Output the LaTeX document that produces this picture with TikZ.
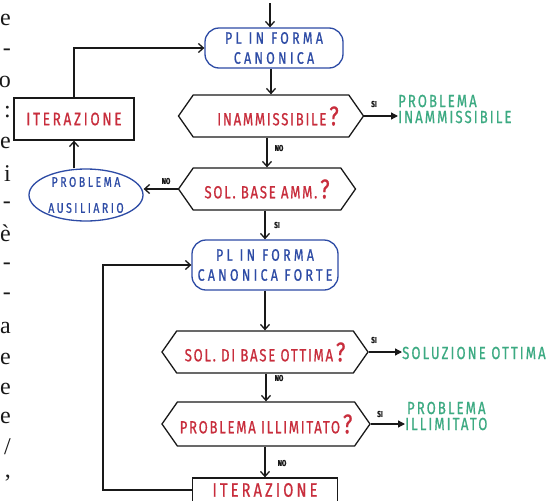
\documentclass[tikz,border=0pt]{standalone}
\usepackage{fontspec}
\setmainfont{Liberation Serif}
\newfontfamily\hand[FakeStretch=0.75, FakeBold=0.8]{Fira Sans}
\usetikzlibrary{arrows.meta,shapes.symbols,shapes.geometric}
\definecolor{penblue}{RGB}{45,75,165}
\definecolor{penred}{RGB}{200,45,60}
\definecolor{pengreen}{RGB}{60,170,130}
\definecolor{ink}{RGB}{25,25,25}
\newcommand{\handat}[3]{\hand\fontsize{#1}{#2}\selectfont\addfontfeature{LetterSpace=#3}}
\newcommand{\wsp}{\hspace{7pt}}
\tikzset{
  flow/.style={draw=ink, line width=1.3pt, -{Straight Barb[length=5pt,width=9pt]}},
  resarrow/.style={draw=ink, line width=1.3pt, -{Triangle[length=7pt,width=7pt]}},
  hexa/.style={shape=signal, signal to=east and west, signal pointer angle=110,
    draw=ink, line width=1.3pt, inner sep=0pt, minimum height=42pt,
    text=penred, font=\handat{17.5}{18}{10}},
  rbox/.style={draw=penblue, line width=1.3pt, rounded corners=14pt, align=center,
    text=penblue, font=\handat{16.5}{20}{20}},
  itbox/.style={draw=ink, line width=1.3pt, text=penred},
  auxbox/.style={shape=ellipse, draw=penblue, line width=1.3pt, inner sep=0pt, align=center,
    text=penblue, font=\handat{14}{26}{18}},
  result/.style={text=pengreen, align=left, font=\handat{17.5}{16}{12}, inner sep=0pt},
  lab/.style={text=ink, font=\hand\bfseries\fontsize{8.5}{8}\selectfont, inner sep=0pt},
  frag/.style={anchor=east, inner sep=0pt, font=\fontsize{24}{24}\selectfont, text=ink}
}
\newcommand{\bigq}{\,{\fontsize{27}{27}\selectfont ?}}
\begin{document}
\begin{tikzpicture}[x=1pt,y=-1pt]
\useasboundingbox (0,0) rectangle (560,501);
\clip (0,0) rectangle (560,501);
\fill[white] (0,0) rectangle (560,501);

% fragments of the surrounding page text
\foreach \c/\yy [count=\i] in {e/20,-/52,o/82,:/112,e/143,i/174,-/205,\`e/233,-/266,-/296,a/328,e/359,e/389,e/418,{/}/447,{,}/478}
  \node[frag] (frag\i) at (11,\yy) {\c};

% main column
\coordinate (start) at (270,3);
\node[rbox, minimum width=138pt, minimum height=40pt] (pl1) at (274,48) {PL\wsp IN\wsp FORMA\\CANONICA};
\node[hexa, minimum width=185pt] (q1) at (271,116) {\hspace{14pt}INAMMISSIBILE\bigq};
\node[hexa, minimum width=177pt] (q2) at (267,189) {SOL. BASE AMM.\bigq};
\node[rbox, minimum width=146pt, minimum height=50pt] (pl2) at (265,265) {PL\wsp IN\wsp FORMA\hspace{26pt}\\CANONICA FORTE};
\node[hexa, minimum width=206pt] (q3) at (265,352) {SOL. DI BASE OTTIMA\bigq};
\node[hexa, minimum width=208pt, minimum height=44pt] (q4) at (266,424) {PROBLEMA ILLIMITATO\bigq};
\node[itbox, minimum width=145pt, minimum height=24pt, font=\handat{19.5}{18}{16}] (it2) at (265,490) {ITERAZIONE};

% left side
\node[itbox, minimum width=120pt, minimum height=42pt, font=\handat{18}{16}{15}] (it1) at (74,119) {ITERAZIONE};
\node[auxbox, minimum width=114pt, minimum height=52pt] (aux) at (86,195) {PROBLEMA\\AUSILIARIO};

% results
\node[result, anchor=west] (r1) at (398,109) {PROBLEMA\\INAMMISSIBILE};
\node[result, anchor=west] (r3) at (402,353) {SOLUZIONE OTTIMA};
\node[result, anchor=west, align=center] (r4) at (405,416) {PROBLEMA\\ILLIMITATO};

% connectors
\draw[flow] (start) -- (start |- pl1.north);
\draw[flow] (pl1.south -| q1.north) -- (q1.north);
\draw[flow] (q2.north |- q1.south) -- (q2.north);
\draw[flow] (pl2.north |- q2.south) -- (pl2.north);
\draw[flow] (q3.north |- pl2.south) -- (q3.north);
\draw[flow] (q4.north |- q3.south) -- (q4.north);
\draw[flow] (it2.north |- q4.south) -- (it2.north);

\draw[resarrow] (q1.east) -- (q1.east -| r1.west);
\draw[resarrow] (q3.east) -- (q3.east -| r3.west);
\draw[resarrow] (q4.east) -- (q4.east -| r4.west);

\draw[flow] (q2.west) -- (q2.west -| aux.east);
\draw[flow] (it1.south |- aux.north) -- (it1.south);
\draw[flow] (it1.north) |- (pl1.west);

\coordinate (loopx) at (103,0);
\draw[flow] (it2.west) -- (it2.west -| loopx) |- (pl2.west);

% labels
\node[lab] (l1) at (374,104) {SI};
\node[lab] (l2) at (279,148) {NO};
\node[lab] (l3) at (166,181) {NO};
\node[lab] (l4) at (277,225) {SI};
\node[lab] (l5) at (374,340) {SI};
\node[lab] (l6) at (279,378) {NO};
\node[lab] (l7) at (380,414) {SI};
\node[lab] (l8) at (282,463) {NO};
\end{tikzpicture}
\end{document}
